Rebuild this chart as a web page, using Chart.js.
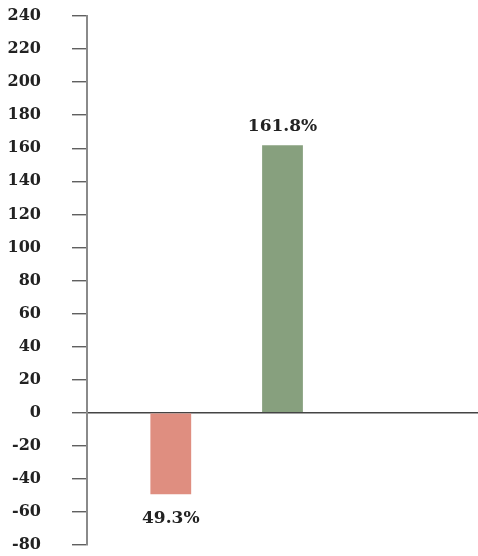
<!DOCTYPE html>
<html>
<head>
<meta charset="utf-8">
<script src="https://cdn.jsdelivr.net/npm/chart.js@4"></script>
<style>
  html, body { margin: 0; padding: 0; background: #fff; overflow: hidden; }
  canvas { display: block; }
</style>
</head>
<body>
<canvas id="changeChart" width="478" height="556"></canvas>
<script>
// chart data
const categories = ['', 'Decline', '', 'Growth', '', '', ''];
const changeValues = [null, -49.3, null, 161.8, null, null, null];
const barColors = ['#df8e80', '#df8e80', '#df8e80', '#87a07e', '#87a07e', '#87a07e', '#87a07e'];
const yMin = -80;
const yMax = 240;
const yStep = 20;

const labelFont = 'bold 17px "DejaVu Serif"';

// draws the percentage next to the end of each bar
const valueLabels = {
    id: 'valueLabels',
    afterDatasetsDraw(chart) {
        const ctx = chart.ctx;
        const meta = chart.getDatasetMeta(0);
        ctx.save();
        ctx.font = labelFont;
        ctx.fillStyle = '#222';
        ctx.textAlign = 'center';
        meta.data.forEach((bar, i) => {
            const v = changeValues[i];
            if (v === null) return;
            const text = Math.abs(v).toFixed(1) + '%';
            if (v >= 0) {
                ctx.textBaseline = 'bottom';
                ctx.fillText(text, bar.x, bar.y - 10);
            } else {
                ctx.textBaseline = 'top';
                ctx.fillText(text, bar.x, bar.y + 16);
            }
        });
        ctx.restore();
    }
};

document.addEventListener('DOMContentLoaded', function() {
    const ctx = document.getElementById('changeChart').getContext('2d');
    window.changeChart = new Chart(ctx, {
        type: 'bar',
        data: {
            labels: categories,
            datasets: [{
                data: changeValues,
                backgroundColor: barColors,
                barPercentage: 0.73,
                categoryPercentage: 1.0
            }]
        },
        options: {
            responsive: false,
            animation: false,
            layout: { padding: { top: 16, right: 0, bottom: 11, left: 0 } },
            plugins: {
                legend: { display: false },
                tooltip: { enabled: false }
            },
            scales: {
                x: {
                    display: false,
                    offset: true
                },
                y: {
                    min: yMin,
                    max: yMax,
                    ticks: {
                        stepSize: yStep,
                        padding: 31,
                        color: '#222',
                        font: { family: 'DejaVu Serif', size: 16, weight: 'bold' }
                    },
                    grid: {
                        drawOnChartArea: true,
                        color: c => (c.tick && c.tick.value === 0) ? '#444' : 'rgba(0,0,0,0)',
                        lineWidth: 1.5,
                        tickColor: '#444',
                        tickLength: 15,
                        tickWidth: 1.2
                    },
                    border: {
                        display: true,
                        color: '#8a8a8a',
                        width: 2
                    },
                    afterFit(scale) {
                        scale.width = 87;
                        scale.paddingTop = 0;
                        scale.paddingBottom = 0;
                    }
                }
            }
        },
        plugins: [valueLabels]
    });
});
</script>
</body>
</html>
